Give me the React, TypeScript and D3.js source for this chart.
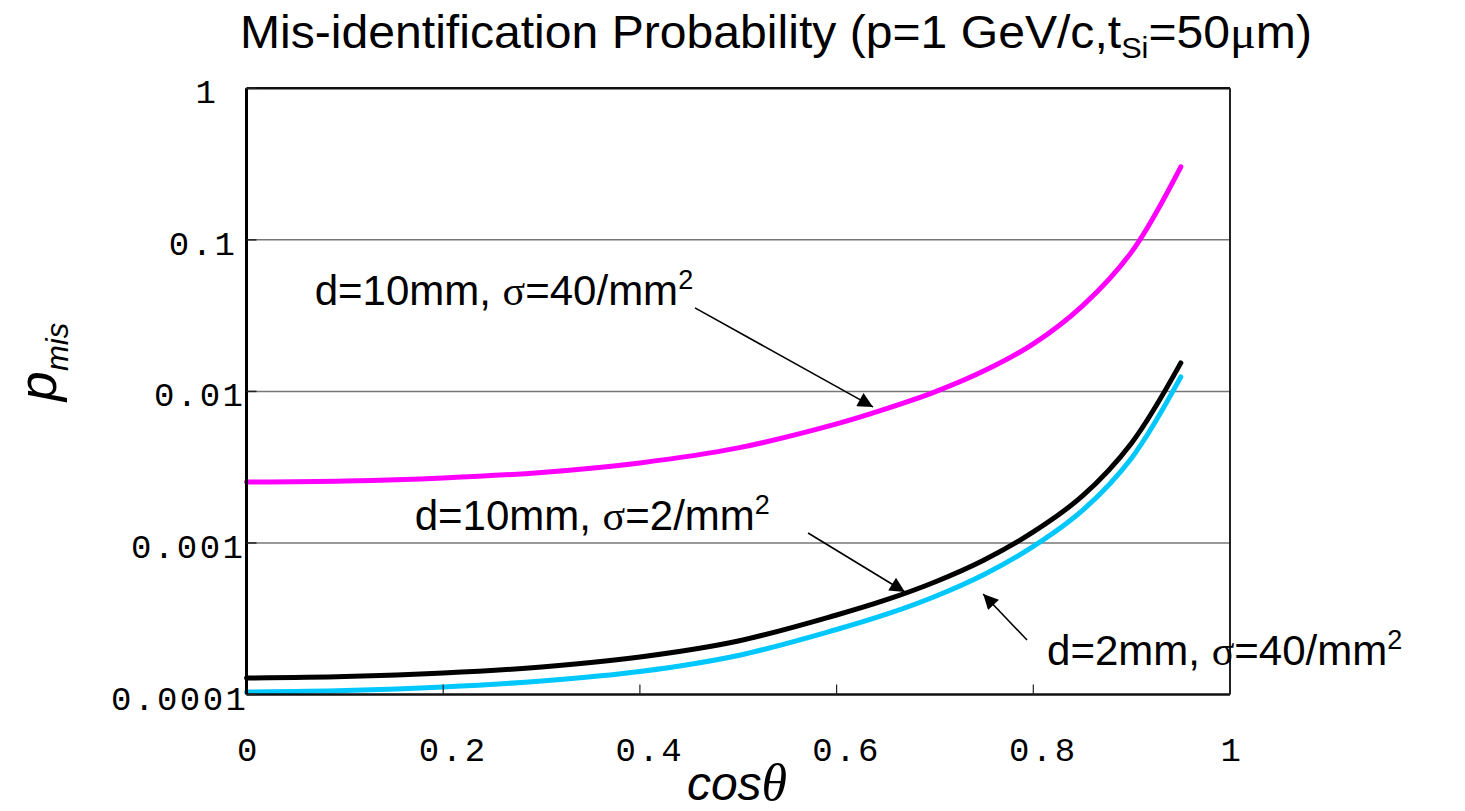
import React from 'react';
import * as d3 from 'd3';

// cos(theta) sample points and mis-identification probabilities
const cosTheta = [0, 0.1, 0.2, 0.3, 0.4, 0.5, 0.6, 0.65, 0.7, 0.75, 0.8, 0.85, 0.9, 0.95];
const pMisD10S40 = [2.527e-3, 2.566e-3, 2.686e-3, 2.92e-3, 3.374e-3, 4.237e-3, 6.103e-3, 7.663e-3, 9.924e-3, 0.01366, 0.02058, 0.03668, 0.08333, 0.3033];
const pMisD10S2 = [1.285e-4, 1.314e-4, 1.386e-4, 1.519e-4, 1.768e-4, 2.255e-4, 3.347e-4, 4.206e-4, 5.529e-4, 7.723e-4, 1.182e-3, 2.043e-3, 4.572e-3, 0.01542];
const pMisD2S40 = [1.039e-4, 1.063e-4, 1.121e-4, 1.228e-4, 1.418e-4, 1.809e-4, 2.685e-4, 3.374e-4, 4.436e-4, 6.196e-4, 9.482e-4, 1.639e-3, 3.64e-3, 0.01246];

const xTicks = [0, 0.2, 0.4, 0.6, 0.8, 1];
const xTickLabels = ['0', '0.2', '0.4', '0.6', '0.8', '1'];
const yTicks = [0.0001, 0.001, 0.01, 0.1, 1];
const yTickLabels = ['0.0001', '0.001', '0.01', '0.1', '1'];
const yTickNudge = [0, -3, -3, -11, -30];

const series = [
  { name: 'd=10mm, s=40', values: pMisD10S40, color: '#ff00ff' },
  { name: 'd=10mm, s=2', values: pMisD10S2, color: '#000000' },
  { name: 'd=2mm, s=40', values: pMisD2S40, color: '#00c8ff' },
];

// annotation labels: [cos, p] of text start, [cos,p] arrow start, [cos,p] arrow tip
const notes = [
  { d: 'd=10mm, ', s: '40', text: [0.0693, 0.0372], from: [0.456, 0.0356], to: [0.637, 0.0079] },
  { d: 'd=10mm, ', s: '2', text: [0.171, 0.00122], from: [0.571, 0.001164], to: [0.6695, 4.75e-4] },
  { d: 'd=2mm, ', s: '40', text: [0.814, 1.566e-4], from: [0.7936, 2.29e-4], to: [0.749, 4.6e-4] },
];

const W = 1465;
const H = 811;
const left = 246.5, right = 1230, top = 88.3, bottom = 694.5;

export default function App() {
  const x = d3.scaleLinear().domain([0, 1]).range([left, right]);
  const y = d3.scaleLog().domain([0.0001, 1]).range([bottom, top]);

  const line = d3.line<number>()
    .x((_, i) => x(cosTheta[i]))
    .y(v => y(v))
    .curve(d3.curveCatmullRom.alpha(0.5));

  const mono = "'Liberation Mono', 'DejaVu Sans Mono', monospace";
  const sans = "'Liberation Sans', Arial, sans-serif";
  const serif = "'Liberation Serif', 'Times New Roman', serif";

  return (
    <svg width={W} height={H} style={{ position: 'absolute', left: 0, top: 0, background: '#fff' }}>
      <defs>
        <marker id="head" viewBox="0 0 10 10" refX="10" refY="5" markerWidth="20" markerHeight="15"
          markerUnits="userSpaceOnUse" orient="auto">
          <path d="M0,0 L10,5 L0,10 z" fill="#000" />
        </marker>
      </defs>

      {/* title */}
      <text x={240} y={48} fontFamily={sans} fontSize={47} textLength={1072} lengthAdjust="spacingAndGlyphs">
        Mis-identification Probability (p=1 GeV/c,t
        <tspan fontSize={30} dy={10}>Si</tspan>
        <tspan dy={-10}>=50</tspan>
        <tspan fontFamily={serif}>μ</tspan>m)
      </text>

      {/* grid */}
      {yTicks.slice(1, 4).map(t => (
        <line key={t} x1={left} x2={right} y1={y(t)} y2={y(t)} stroke="#777" strokeWidth={1.5} />
      ))}

      {/* curves */}
      {series.map(s => (
        <path key={s.name} d={line(s.values) || ''} fill="none" stroke={s.color} strokeWidth={5}
          strokeLinecap="round" />
      ))}

      {/* frame */}
      <line x1={left} x2={right} y1={top} y2={top} stroke="#111" strokeWidth={2.5} />
      <line x1={left} x2={right} y1={bottom} y2={bottom} stroke="#111" strokeWidth={2.5} />
      <line x1={left} x2={left} y1={top} y2={bottom} stroke="#000" strokeWidth={3} />
      <line x1={right} x2={right} y1={top} y2={bottom} stroke="#222" strokeWidth={2} />

      {/* ticks */}
      {yTicks.map(t => (
        <line key={'yt' + t} x1={left} x2={left + 10} y1={y(t)} y2={y(t)} stroke="#222" strokeWidth={1.5} />
      ))}
      {xTicks.slice(1, 5).map(t => (
        <line key={'xt' + t} x1={x(t)} x2={x(t)} y1={bottom} y2={bottom - 10} stroke="#222" strokeWidth={1.2} />
      ))}

      {/* tick labels */}
      {yTicks.map((t, i) => (
        <text key={'yl' + t} x={left + 2 + yTickNudge[i]} y={y(t) + 15} textAnchor="end" fontFamily={mono}
          fontSize={34} letterSpacing={2.5}>{yTickLabels[i]}</text>
      ))}
      {xTicks.map((t, i) => (
        <text key={'xl' + t} x={x(t) + (i === 0 || i === 5 ? 2 : 10)} y={761} textAnchor="middle" fontFamily={mono}
          fontSize={34} letterSpacing={2.5}>{xTickLabels[i]}</text>
      ))}

      {/* axis titles */}
      <text x={737} y={800} textAnchor="middle" fontSize={48}>
        <tspan fontFamily={sans} fontStyle="italic">cos</tspan>
        <tspan fontFamily={serif} fontStyle="italic" fontSize={52}>θ</tspan>
      </text>
      <text transform="translate(56,362) rotate(-90)" textAnchor="middle" fontFamily={sans} fontStyle="italic">
        <tspan fontSize={54}>p</tspan>
        <tspan fontSize={31} dy={12}>mis</tspan>
      </text>

      {/* annotations */}
      {notes.map((n, i) => (
        <g key={'n' + i}>
          <line x1={x(n.from[0])} y1={y(n.from[1])} x2={x(n.to[0])} y2={y(n.to[1])} stroke="#000"
            strokeWidth={1.6} markerEnd="url(#head)" />
          <text x={x(n.text[0])} y={y(n.text[1])} fontFamily={sans} fontSize={42}>
            {n.d}
            <tspan fontFamily={serif}>σ</tspan>
            ={n.s}/mm
            <tspan fontSize={27} dy={-16}>2</tspan>
          </text>
        </g>
      ))}
    </svg>
  );
}
